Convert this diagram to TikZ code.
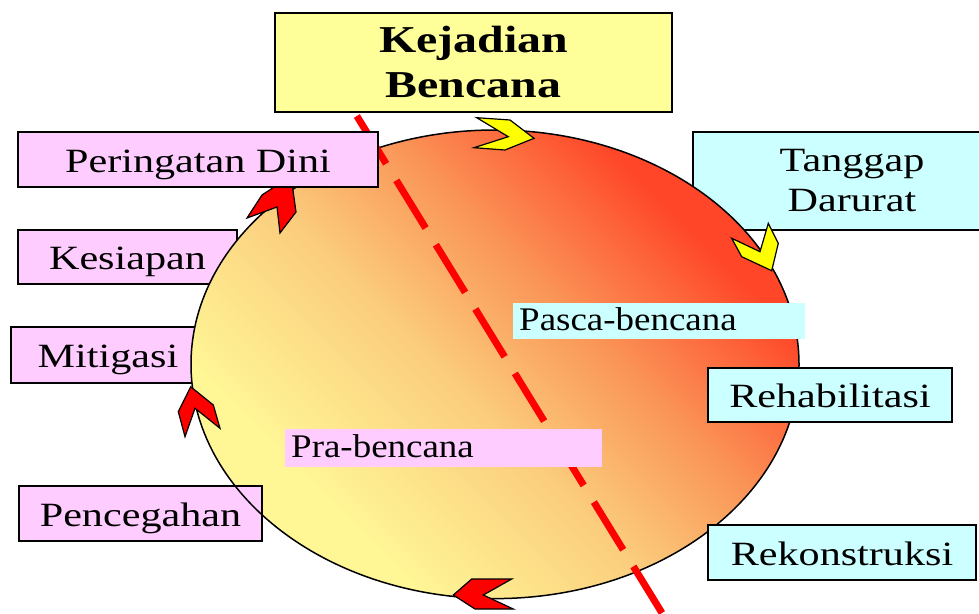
\documentclass[tikz,border=0pt]{standalone}
\usepackage{fontspec}
\setmainfont{Liberation Serif}
\newfontfamily\boxfont[FakeStretch=1.24]{Liberation Serif}
\newfontfamily\labfont[FakeStretch=1.12]{Liberation Serif}
\newfontfamily\titlefont[FakeStretch=1.26]{Liberation Serif}
\definecolor{boxyellow}{RGB}{255,255,153}
\definecolor{boxpink}{RGB}{255,204,255}
\definecolor{boxcyan}{RGB}{204,255,255}
\definecolor{gradY}{RGB}{255,246,150}
\definecolor{gradT}{RGB}{251,205,125}
\definecolor{gradM}{RGB}{250,150,88}
\definecolor{gradR}{RGB}{255,70,40}
\definecolor{chevyellow}{RGB}{255,255,0}
\definecolor{chevred}{RGB}{255,0,0}
\pgfdeclarehorizontalshading{discshade}{100bp}{color(0bp)=(gradY); color(30bp)=(gradY); color(46bp)=(gradT); color(58bp)=(gradM); color(72bp)=(gradR); color(100bp)=(gradR)}
\tikzset{
  stagebox/.style={draw=black, line width=2.2pt, inner sep=0pt,
    font=\boxfont\fontsize{34}{40}\selectfont, text height=25pt, text depth=0pt},
  twobox/.style={draw=black, line width=2.2pt, inner sep=0pt, align=center},
  phaselabel/.style={inner xsep=6pt, inner ysep=0pt, align=left,
    font=\labfont\fontsize{33}{38}\selectfont, text height=21pt, text depth=3pt},
  chev/.style={draw=black, line width=1.2pt, line join=miter},
  ring/.style={line width=1.5pt, draw=black},
  phaseline/.style={draw=chevred, line width=7pt, dash pattern=on 56pt off 19.5pt, dash phase=56.7pt}
}
\begin{document}
\begin{tikzpicture}[x=1pt,y=-1pt]
\useasboundingbox (0,0) rectangle (979,613);
% boxes under the circle
\node[stagebox, fill=boxpink, minimum width=219pt, minimum height=54pt] (kesiapan) at (127.5,257) {Kesiapan};
\node[stagebox, fill=boxpink, minimum width=194pt, minimum height=56pt] (mitigasi) at (108,355) {Mitigasi};
\node[twobox, fill=boxcyan, minimum width=318pt, minimum height=98pt,
  font=\boxfont\fontsize{34}{40}\selectfont] (tanggap) at (852,181) {Tanggap\\Darurat};
% circle
\shade[shading=discshade, shading angle=45]
  (495,364.3) ellipse [x radius=304, y radius=234.3];
\node[stagebox, fill=boxpink, minimum width=243pt, minimum height=55pt] (pencegahan) at (140.5,513.5) {Pencegahan};
\draw[ring] (495,364.3) ellipse [x radius=304, y radius=234.3];
% dashed divider
\coordinate (dashA) at (347,100);
\coordinate (dashB) at (662,613);
\draw[phaseline] (dashA) -- (dashB);
% phase labels
\node[phaselabel, fill=boxcyan, text width=280pt, minimum height=36pt, anchor=west] (pasca) at (513,321) {Pasca-bencana};
\node[phaselabel, fill=boxpink, text width=305pt, minimum height=38pt, anchor=west] (pra) at (285,448) {Pra-bencana};
% chevron under Peringatan Dini
\filldraw[chev, fill=chevred] (247,218) -- (262,195) -- (291,176) -- (296,212) -- (280,233) -- (277,207) -- cycle;
% boxes over the circle
\node[stagebox, fill=boxpink, minimum width=360pt, minimum height=55pt] (dini) at (198,159.5) {Peringatan Dini};
\node[stagebox, fill=boxcyan, minimum width=244pt, minimum height=54pt] (rehab) at (830,395) {Rehabilitasi};
\node[stagebox, fill=boxcyan, minimum width=268pt, minimum height=55pt] (rekon) at (842,552.5) {Rekonstruksi};
\node[twobox, fill=boxyellow, minimum width=397pt, minimum height=99pt,
  font=\titlefont\bfseries\fontsize{38}{45}\selectfont] (kejadian) at (473.5,62.5) {Kejadian\\Bencana};
% chevrons
\filldraw[chev, fill=chevyellow] (476.7,117.7) -- (510,120) -- (534,138.3) -- (505,150) -- (474,147.7) -- (508.3,136.7) -- cycle;
\filldraw[chev, fill=chevyellow] (731.7,238.3) -- (760,251.7) -- (768.3,223.3) -- (778.3,243.3) -- (771.7,270.7) -- (741.7,256.7) -- cycle;
\filldraw[chev, fill=chevred] (511.7,579) -- (471.7,579) -- (453.3,595) -- (475,609) -- (513.3,609) -- (483.3,595) -- cycle;
\filldraw[chev, fill=chevred] (190.7,386.7) -- (213.3,405) -- (220,428.3) -- (195,408.3) -- (185,436.7) -- (178.3,411.7) -- cycle;
\end{tikzpicture}
\end{document}
